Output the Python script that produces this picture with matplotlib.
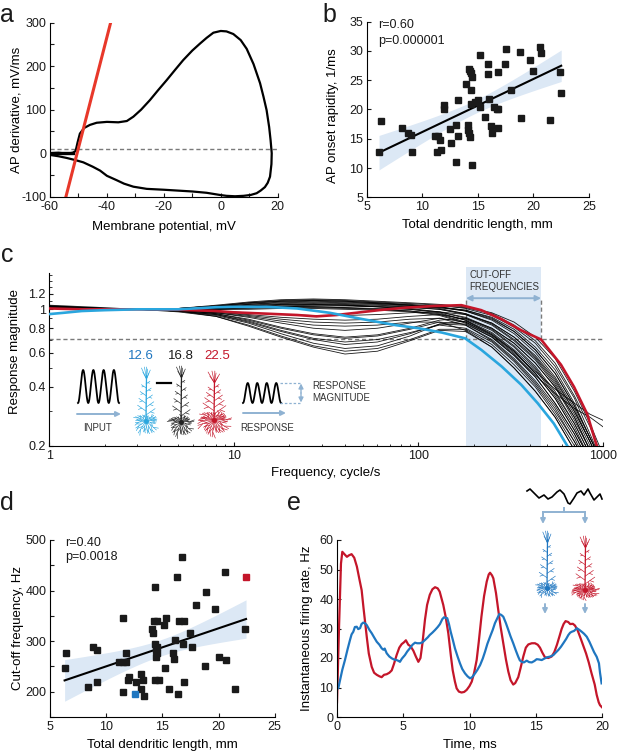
import numpy as np
import matplotlib.pyplot as plt
from matplotlib.ticker import FixedLocator, FixedFormatter, NullFormatter

# ---- panel a: phase plot of the AP ----
ap_v = [-60, -57, -54, -52, -51, -50.3, -49.5, -48, -46, -43.6, -40, -36, -33, -30.7, -28, -24.9, -22,
        -19, -16, -13.2, -10, -7.3, -5, -2.6, 0, 2, 4.4, 7, 9.1, 11.5, 13.8, 15, 16.1, 17, 17.5, 17.9,
        17.8, 17.3, 16.5, 15.5, 14, 12.6, 10.5, 8, 5, 2, -0.3, -5, -10, -15, -20, -26, -30.7, -34,
        -36.6, -40, -42.4, -45, -48.3, -51, -54.1, -57, -60]
ap_dv = [0, 1, -1, 1, 5, 25, 45, 58, 65, 70, 72, 71, 74, 84, 100, 122, 145,
         168, 192, 214, 236, 252, 265, 277, 281, 280, 274, 260, 240, 205, 161, 130, 99, 60, 30, 0,
         -25, -54, -68, -78, -86, -92, -96, -98, -99, -98, -96, -91, -88, -86, -84, -82, -77, -70,
         -62, -52, -40, -31, -21, -16, -11, -7, -4]
onset_v = [-54.4, -38.7]
onset_dv = [-100, 300]

# ---- panel b: AP onset rapidity vs dendritic length ----
len_b = [6.11, 6.29, 8.21, 8.69, 8.99, 9.05, 11.15, 11.39, 11.33, 11.6, 11.66, 11.93, 11.99, 12.5,
         12.59, 13.0, 13.0, 13.2, 13.25, 13.97, 14.15, 14.15, 14.24, 14.24, 14.3, 14.3, 14.4, 14.4,
         14.4, 14.45, 14.5, 14.7, 15.0, 15.2, 15.2, 15.6, 15.9, 15.9, 16.0, 16.2, 16.3, 16.45, 16.7,
         16.8, 16.85, 16.85, 17.44, 17.56, 17.98, 18.79, 18.85, 19.68, 19.96, 20.56, 20.68, 21.49,
         22.4, 22.5]
rapid_b = [12.7, 18.1, 16.9, 16.0, 15.7, 12.7, 15.5, 15.5, 12.8, 14.8, 13.1, 20.0, 20.7, 16.6,
           14.3, 17.3, 11.0, 21.7, 15.5, 24.3, 17.3, 16.5, 15.9, 26.9, 26.5, 15.3, 23.3, 20.9,
           26.2, 25.5, 10.6, 21.3, 21.6, 29.3, 20.4, 18.7, 27.8, 26.0, 21.8, 17.1, 16.0, 20.4, 20.0,
           26.4, 20.0, 16.8, 27.7, 30.3, 23.4, 29.8, 18.5, 28.5, 26.5, 30.6, 29.6, 18.2,
           26.4, 22.8]

# ---- panel c: response magnitude vs frequency ----
freq = [1, 2, 3, 5, 8, 12, 18, 27, 40, 60, 90, 130, 180, 250, 330, 430, 550, 700, 850, 1000]
black_resp = [
    [1.02, 1.00, 1.00, 1.01, 1.05, 1.09, 1.12, 1.13, 1.12, 1.10, 1.08, 1.06, 1.03, 0.96, 0.86, 0.72, 0.56, 0.38, 0.26, 0.18],
    [1.03, 1.00, 1.00, 1.01, 1.04, 1.08, 1.11, 1.12, 1.11, 1.09, 1.07, 1.05, 1.01, 0.93, 0.81, 0.67, 0.51, 0.35, 0.23, 0.16],
    [1.02, 1.00, 1.00, 1.01, 1.04, 1.07, 1.10, 1.11, 1.10, 1.08, 1.06, 1.03, 0.98, 0.88, 0.75, 0.60, 0.45, 0.31, 0.21, 0.15],
    [1.01, 1.00, 1.00, 1.00, 1.03, 1.06, 1.08, 1.09, 1.08, 1.07, 1.05, 1.04, 1.02, 0.95, 0.83, 0.69, 0.53, 0.36, 0.25, 0.17],
    [1.02, 1.00, 1.00, 1.00, 1.02, 1.05, 1.07, 1.08, 1.07, 1.06, 1.04, 1.02, 0.99, 0.91, 0.79, 0.64, 0.49, 0.33, 0.22, 0.16],
    [1.02, 1.00, 1.00, 1.00, 1.02, 1.04, 1.06, 1.07, 1.06, 1.05, 1.03, 1.00, 0.94, 0.83, 0.69, 0.55, 0.41, 0.28, 0.19, 0.14],
    [1.03, 1.00, 1.00, 1.00, 1.02, 1.04, 1.06, 1.06, 1.05, 1.03, 1.01, 0.97, 0.90, 0.79, 0.65, 0.51, 0.38, 0.26, 0.18, 0.13],
    [1.03, 1.00, 1.00, 1.00, 1.01, 1.02, 1.03, 1.04, 1.04, 1.03, 1.02, 1.00, 0.95, 0.85, 0.72, 0.58, 0.44, 0.30, 0.21, 0.15],
    [1.04, 1.01, 1.00, 1.00, 1.01, 1.02, 1.03, 1.03, 1.02, 1.01, 1.00, 0.97, 0.91, 0.80, 0.67, 0.53, 0.40, 0.28, 0.19, 0.14],
    [1.02, 1.00, 1.00, 1.00, 1.00, 1.01, 1.02, 1.02, 1.01, 1.00, 0.98, 0.95, 0.88, 0.76, 0.62, 0.49, 0.36, 0.25, 0.17, 0.12],
    [1.03, 1.00, 1.00, 1.00, 1.00, 1.00, 1.01, 1.01, 1.00, 0.99, 0.97, 0.93, 0.85, 0.72, 0.58, 0.45, 0.33, 0.23, 0.16, 0.12],
    [1.02, 1.00, 1.00, 0.99, 0.98, 0.96, 0.94, 0.93, 0.93, 0.94, 0.96, 0.97, 0.94, 0.85, 0.72, 0.57, 0.43, 0.30, 0.21, 0.15],
    [1.03, 1.00, 1.00, 0.99, 0.97, 0.94, 0.91, 0.89, 0.88, 0.89, 0.92, 0.94, 0.89, 0.78, 0.64, 0.50, 0.37, 0.26, 0.18, 0.13],
    [1.02, 1.00, 1.00, 0.99, 0.97, 0.93, 0.89, 0.86, 0.85, 0.86, 0.89, 0.90, 0.83, 0.69, 0.55, 0.42, 0.31, 0.21, 0.15, 0.11],
    [1.03, 1.01, 1.00, 0.99, 0.96, 0.91, 0.85, 0.80, 0.78, 0.80, 0.85, 0.90, 0.86, 0.74, 0.61, 0.47, 0.35, 0.24, 0.17, 0.12],
    [1.03, 1.01, 1.00, 0.99, 0.95, 0.88, 0.80, 0.74, 0.71, 0.73, 0.79, 0.86, 0.84, 0.72, 0.58, 0.45, 0.33, 0.23, 0.16, 0.12],
    [1.04, 1.01, 1.00, 0.98, 0.94, 0.87, 0.78, 0.71, 0.68, 0.70, 0.76, 0.83, 0.80, 0.68, 0.54, 0.41, 0.30, 0.21, 0.15, 0.11],
    [1.03, 1.01, 1.00, 0.99, 0.95, 0.89, 0.81, 0.75, 0.72, 0.74, 0.80, 0.88, 0.90, 0.80, 0.67, 0.53, 0.40, 0.27, 0.19, 0.14],
    [1.04, 1.01, 1.00, 0.98, 0.93, 0.85, 0.75, 0.67, 0.63, 0.65, 0.73, 0.84, 0.87, 0.75, 0.61, 0.47, 0.35, 0.24, 0.17, 0.12],
    [1.04, 1.01, 1.00, 0.98, 0.92, 0.83, 0.73, 0.65, 0.61, 0.63, 0.70, 0.79, 0.79, 0.66, 0.52, 0.40, 0.29, 0.20, 0.14, 0.10],
    [1.05, 1.02, 1.00, 0.97, 0.92, 0.82, 0.72, 0.64, 0.59, 0.61, 0.69, 0.78, 0.77, 0.64, 0.50, 0.38, 0.28, 0.19, 0.14, 0.10],
    [1.03, 1.01, 1.00, 0.98, 0.94, 0.86, 0.77, 0.70, 0.66, 0.68, 0.75, 0.84, 0.83, 0.70, 0.56, 0.43, 0.32, 0.22, 0.15, 0.11],
    [1.02, 1.00, 1.00, 1.00, 1.01, 1.03, 1.05, 1.06, 1.05, 1.03, 1.00, 0.96, 0.88, 0.74, 0.60, 0.48, 0.39, 0.33, 0.29, 0.27],
    [1.03, 1.00, 1.00, 1.00, 1.00, 1.02, 1.03, 1.03, 1.02, 1.00, 0.98, 0.94, 0.86, 0.73, 0.59, 0.46, 0.37, 0.31, 0.28, 0.25],
    [1.02, 1.00, 1.00, 1.00, 1.03, 1.06, 1.09, 1.10, 1.09, 1.07, 1.05, 1.03, 0.99, 0.90, 0.77, 0.62, 0.47, 0.32, 0.22, 0.16],
    [1.03, 1.00, 1.00, 1.01, 1.04, 1.08, 1.10, 1.11, 1.10, 1.08, 1.05, 1.01, 0.95, 0.84, 0.70, 0.56, 0.42, 0.29, 0.20, 0.14],
    [1.02, 1.00, 1.00, 0.99, 0.96, 0.92, 0.87, 0.83, 0.82, 0.83, 0.86, 0.86, 0.78, 0.64, 0.50, 0.38, 0.28, 0.19, 0.14, 0.10],
    [1.02, 1.00, 1.00, 1.00, 1.01, 1.03, 1.04, 1.05, 1.05, 1.04, 1.03, 1.02, 0.98, 0.89, 0.77, 0.62, 0.47, 0.32, 0.22, 0.16],
]
red_f = [1, 1.5, 2, 3, 5, 8, 10, 15, 22, 28, 36, 46, 61, 85, 123, 171, 219, 282, 361, 462, 592, 697, 822, 910, 1000]
red_resp = [1.01, 1.0, 1.0, 1.0, 0.995, 0.98, 0.965, 0.95, 0.935, 0.92, 0.935, 0.96, 0.99, 1.02, 1.04, 1.05,
            0.99, 0.89, 0.78, 0.70, 0.52, 0.40, 0.29, 0.21, 0.16]
blue_f = [1, 1.2, 1.5, 2, 3, 5, 8, 10, 15, 22, 33, 50, 75, 100, 134, 179, 219, 282, 361, 443, 541, 640, 750]
blue_resp = [0.945, 0.96, 0.98, 0.99, 1.0, 1.0, 1.025, 1.03, 1.03, 1.01, 0.96, 0.89, 0.83, 0.80, 0.76, 0.71,
             0.62, 0.51, 0.41, 0.33, 0.26, 0.20, 0.16]
cutoff_lo, cutoff_hi = 181, 462

# ---- panel d: cut-off frequency vs dendritic length ----
len_d = [16.72, 16.33, 20.6, 14.35, 18.86, 18.0, 19.69, 11.47, 15.3, 14.26, 14.5, 16.5, 16.9, 15.15,
         14.05, 14.2, 17.46, 22.4, 16.1, 14.35, 14.5, 17.6, 16.84, 8.86, 9.15, 6.45, 11.77, 14.44,
         14.5, 15.98, 14.44, 16.04, 20.0, 20.7, 11.17, 11.47, 11.77, 15.27, 6.3, 18.8, 8.35, 9.18,
         12.06, 11.97, 13.07, 13.3, 12.66, 14.35, 14.73, 16.9, 11.47, 13.13, 15.62, 16.36, 21.5, 13.37]
cutoff_d = [467, 426, 436, 407, 398, 371, 363, 346, 346, 339, 339, 339, 339, 331,
            324, 317, 317, 324, 302, 294, 288, 289, 294, 289, 282, 276, 276, 282,
            276, 276, 269, 264, 269, 263, 258, 258, 258, 246, 246, 251, 210, 220,
            230, 223, 235, 224, 220, 224, 224, 220, 200, 205, 205, 195, 205, 191]
big_len, big_cut = 22.45, 426
small_len, small_cut = 12.6, 195

# ---- panel e: instantaneous firing rate ----
red_t = [0.0, 0.15, 0.3, 0.4, 0.6, 0.75, 0.9, 1.1, 1.3, 1.5, 1.7, 1.86, 2.0, 2.1, 2.25, 2.4, 2.62, 2.8, 3.0,
         3.2, 3.37, 3.55, 3.75, 3.95, 4.13, 4.3, 4.5, 4.7, 4.88, 5.05, 5.2, 5.38, 5.55, 5.76, 5.95, 6.14,
         6.3, 6.45, 6.64, 6.8, 7.0, 7.2, 7.4, 7.6, 7.75, 8.02, 8.2, 8.4, 8.6, 8.73, 8.9, 9.03, 9.2, 9.4,
         9.6, 9.79, 10.0, 10.17, 10.35, 10.54, 10.7, 10.9, 11.1, 11.3, 11.45, 11.55, 11.7, 11.8, 12.0,
         12.17, 12.35, 12.55, 12.75, 12.93, 13.1, 13.3, 13.45, 13.68, 13.85, 14.06, 14.25, 14.44, 14.7,
         14.94, 15.15, 15.32, 15.5, 15.7, 15.95, 16.2, 16.4, 16.6, 16.8, 16.95, 17.1, 17.25, 17.45, 17.6,
         17.8, 17.96, 18.15, 18.4, 18.6, 18.8, 19.0, 19.2, 19.45, 19.6, 19.75, 19.85, 20.0]
red_rate = [5, 30, 52, 56, 55, 54.3, 54.8, 55.2, 54, 51, 46.5, 43, 37, 33, 27, 21.5, 17, 15, 14.3,
            13.8, 13.5, 14.3, 14.5, 15, 15.8, 18, 21, 23.5, 24.7, 25.3, 26, 24.5, 24, 22.5, 20.5, 18.7,
            20, 25, 33, 38, 41.4, 43.3, 44, 43.6, 42.5, 38, 34, 28.4, 20.5, 15.9, 12, 9.7, 8.6, 8.3,
            8.5, 9.2, 10.5, 12, 15, 19.3, 25.5, 34, 41, 45.9, 48.3, 48.9, 48, 47, 42,
            36.3, 30.5, 25, 19.5, 15.4, 12.5, 11, 11.5, 13.5, 16.5, 20.5, 23.5, 24.6, 25,
            25, 24.5, 23.5, 21.8, 20.2, 20, 20.5, 22, 24.5, 27.5, 29.8, 31.5, 32.5, 32.2, 31.5,
            31.6, 31, 29.5, 26.5, 24, 21.5, 18.5, 15, 11, 7.5, 5, 4, 3.3]
blue_t = [0.0, 0.1, 0.23, 0.4, 0.6, 0.8, 0.98, 1.1, 1.23, 1.35, 1.49, 1.6, 1.74, 1.85, 1.98, 2.1, 2.24,
          2.45, 2.62, 2.8, 3.0, 3.2, 3.37, 3.5, 3.6, 3.75, 3.95, 4.13, 4.3, 4.5, 4.65, 4.75, 4.9, 5.13,
          5.3, 5.5, 5.7, 5.89, 6.05, 6.26, 6.45, 6.64, 6.85, 7.0, 7.2, 7.4, 7.6, 7.77, 7.95, 8.08, 8.2,
          8.32, 8.45, 8.58, 8.75, 8.9, 9.1, 9.28, 9.45, 9.66, 9.85, 10.04, 10.2, 10.42, 10.6, 10.8,
          11.0, 11.17, 11.35, 11.55, 11.75, 11.92, 12.1, 12.25, 12.4, 12.55, 12.75, 12.93, 13.1, 13.3,
          13.5, 13.68, 13.8, 13.94, 14.1, 14.32, 14.5, 14.7, 14.9, 15.07, 15.25, 15.45, 15.65, 15.83,
          16.1, 16.33, 16.5, 16.7, 16.9, 17.08, 17.3, 17.46, 17.6, 17.72, 17.9, 18.1, 18.3, 18.47,
          18.65, 18.85, 19.05, 19.22, 19.4, 19.6, 19.77, 19.85, 19.97]
blue_rate = [9.5, 9.8, 12.5, 16, 19.3, 23, 26.1, 28, 28.9, 30.5, 30.6, 29.8, 30.1, 31.5, 32, 31.8, 31.2,
             29.5, 28.4, 27, 25.5, 24.5, 23.3, 22.8, 23.2, 21.6, 20.5, 19.9, 19.5, 19.3, 19, 18.7, 19.8, 21,
             22.2, 23.3, 24.5, 25.2, 25, 25, 25.3, 26.1, 27, 27.8, 28.6, 29.5, 30.5, 31.5, 33.2, 33.8, 33.6,
             33.5, 31.5, 28.9, 26, 23.3, 20.5, 18.2, 16.3, 14.8, 13.8, 13.1, 13.5, 14.8, 16, 17.6,
             19.8, 22.1, 24.8, 27.2, 29.5, 31.8, 33.5, 34.9, 34.6, 34, 31.8, 29.5, 27.3, 25,
             22.5, 20.4, 19.2, 18.7, 18.5, 19.1, 18.6, 18.5, 19, 19.6, 19.5, 19.3, 19.8, 20.2,
             20.5, 21, 21.8, 22.7, 23.8, 25, 26.5, 27.8, 28.6, 28.9, 29.2, 30.1, 29.5, 28.9,
             28.2, 27.2, 25.5, 23.8, 22, 20.4, 18.2, 15, 11.4]
# stimulus trace drawn above panel e (pixel offsets)
stim_x = [0, 3, 7, 12, 17, 21, 25, 30, 33, 37, 41, 43, 47, 50, 54, 57, 61, 63, 67, 69, 73, 75]
stim_y = [0, -2, 2, 7, 4, 8, 6, 1, -1, 3, 12, 13, 7, 2, 0, 4, -2, 2, 9, 7, 3, 8]

RED = '#c4162a'
CBLUE = '#2aa6de'
EBLUE = '#1f76c0'
SHADE = '#dce8f5'
ARROW = '#8fb2d2'
GRAY = '#7a7a7a'

plt.rcParams['font.family'] = ['Liberation Sans', 'DejaVu Sans']
plt.rcParams['font.size'] = 9
plt.rcParams['axes.linewidth'] = 0.8
plt.rcParams['xtick.direction'] = 'in'
plt.rcParams['ytick.direction'] = 'in'
plt.rcParams['xtick.major.size'] = 3
plt.rcParams['ytick.major.size'] = 3
plt.rcParams['xtick.minor.size'] = 1.8
plt.rcParams['ytick.minor.size'] = 1.8
plt.rcParams['xtick.major.pad'] = 3
plt.rcParams['ytick.major.pad'] = 2.5
plt.rcParams['text.color'] = '#1a1a1a'
plt.rcParams['xtick.color'] = '#1a1a1a'
plt.rcParams['ytick.color'] = '#1a1a1a'

W, H = 617, 753
fig = plt.figure(figsize=(W / 100, H / 100), dpi=100)


def axes_px(l, t, r, b):
    ax = fig.add_axes([l / W, 1 - b / H, (r - l) / W, (b - t) / H])
    ax.spines[['top', 'right']].set_visible(False)
    ax.patch.set_alpha(0)
    return ax


def labels(ax, xl, yl, xpos=-0.158, ypos=(-0.15, 0.5)):
    ax.set_xlabel(xl, fontsize=9.5)
    ax.set_ylabel(yl, fontsize=9.5)
    ax.xaxis.label.set_va('center')
    ax.yaxis.label.set_va('center')
    ax.xaxis.set_label_coords(0.5, xpos)
    ax.yaxis.set_label_coords(*ypos)


def fit_band(x, y):
    x = np.asarray(x, float)
    y = np.asarray(y, float)
    slope, icpt = np.polyfit(x, y, 1)
    xs = np.linspace(x.min(), x.max(), 100)
    resid = y - (icpt + slope * x)
    s = np.sqrt(np.sum(resid ** 2) / (len(x) - 2))
    se = s * np.sqrt(1 / len(x) + (xs - x.mean()) ** 2 / np.sum((x - x.mean()) ** 2))
    return xs, icpt + slope * xs, 1.96 * se


# ---------- a ----------
ax_a = axes_px(50, 22.7, 277.7, 196.7)
ax_a.axhline(10, color=GRAY, lw=1, ls=(0, (3, 2)))
ax_a.plot(ap_v, ap_dv, color='k', lw=1.6)
ax_a.plot([-60, -52], [0, 0], color='k', lw=2.4)
ax_a.plot(onset_v, onset_dv, color='#e8382a', lw=2.2)
ax_a.set_xlim(-60, 20)
ax_a.set_ylim(-100, 300)
ax_a.xaxis.set_major_locator(FixedLocator(range(-60, 21, 10)))
ax_a.xaxis.set_major_formatter(FixedFormatter(['-60', '', '-40', '', '-20', '', '0', '', '20']))
ax_a.yaxis.set_major_locator(FixedLocator(range(-100, 301, 50)))
ax_a.yaxis.set_major_formatter(FixedFormatter(['-100', '', '0', '', '100', '', '200', '', '300']))
labels(ax_a, 'Membrane potential, mV', 'AP derivative, mV/ms', -0.174, (-0.149, 0.5))

# ---------- b ----------
ax_b = axes_px(366.7, 21.7, 589, 197.3)
xs, yh, ci = fit_band(len_b, rapid_b)
ax_b.fill_between(xs, yh - ci, yh + ci, color=SHADE, lw=0, zorder=1)
ax_b.plot(xs, yh, color='k', lw=1.5, zorder=2)
ax_b.plot(len_b, rapid_b, 's', color='#1a1a1a', ms=4.6, zorder=3)
ax_b.set_xlim(5, 25)
ax_b.set_ylim(5, 35)
ax_b.set_xticks(range(5, 26, 5))
ax_b.set_yticks(range(5, 36, 5))
labels(ax_b, 'Total dendritic length, mm', 'AP onset rapidity, 1/ms', -0.158, (-0.152, 0.463))

# ---------- c ----------
ax_c = axes_px(49.3, 273, 603, 445.7)
ax_c.set_xscale('log')
ax_c.set_yscale('log')
ax_c.axvspan(cutoff_lo, cutoff_hi, ymin=0, ymax=1.036, color=SHADE, lw=0, zorder=0, clip_on=False)
ax_c.axhline(0.707, color=GRAY, lw=1, ls=(0, (3, 2)), zorder=1)
for row in black_resp:
    ax_c.plot(freq, row, color='k', lw=0.6, alpha=0.9, zorder=2)
ax_c.plot(red_f, red_resp, color=RED, lw=1.9, zorder=3)
ax_c.plot(blue_f, blue_resp, color=CBLUE, lw=1.9, zorder=4)
arrow_y = 1.14
for fx in (cutoff_lo, cutoff_hi):
    ax_c.plot([fx, fx], [0.707, arrow_y], color=GRAY, lw=1, ls=(0, (3, 2)), zorder=1)
ax_c.annotate('', xy=(cutoff_hi, arrow_y), xytext=(cutoff_lo, arrow_y),
              arrowprops=dict(arrowstyle='<|-|>', color=ARROW, lw=1.4, mutation_scale=8,
                              shrinkA=0, shrinkB=0), zorder=5)
ax_c.set_xlim(1, 1000)
ax_c.set_ylim(0.2, 1.535)
ax_c.xaxis.set_major_locator(FixedLocator([1, 10, 100, 1000]))
ax_c.xaxis.set_major_formatter(FixedFormatter(['1', '10', '100', '1000']))
ax_c.xaxis.set_minor_formatter(NullFormatter())
ax_c.yaxis.set_major_locator(FixedLocator([0.2, 0.4, 0.6, 0.8, 1, 1.2]))
ax_c.yaxis.set_major_formatter(FixedFormatter(['0.2', '0.4', '0.6', '0.8', '1', '1.2']))
ax_c.yaxis.set_minor_locator(FixedLocator([0.3, 0.5, 0.7, 0.9, 1.1, 1.3, 1.4, 1.5]))
ax_c.yaxis.set_minor_formatter(NullFormatter())
labels(ax_c, 'Frequency, cycle/s', 'Response magnitude', -0.158, (-0.062, 0.548))

# ---------- d ----------
ax_d = axes_px(50, 540, 274.7, 717)
all_len = len_d + [big_len, small_len]
all_cut = cutoff_d + [big_cut, small_cut]
xs, yh, ci = fit_band(all_len, all_cut)
ax_d.fill_between(xs, yh - ci, yh + ci, color=SHADE, lw=0, zorder=1)
ax_d.plot(xs, yh, color='k', lw=1.5, zorder=2)
ax_d.plot(len_d, cutoff_d, 's', color='#1a1a1a', ms=4.3, zorder=3)
ax_d.plot([big_len], [big_cut], 's', color=RED, ms=5, zorder=3)
ax_d.plot([small_len], [small_cut], 's', color=EBLUE, ms=5, zorder=3)
ax_d.set_xlim(5, 25)
ax_d.set_ylim(150, 500)
ax_d.set_xticks(range(5, 26, 5))
ax_d.yaxis.set_major_locator(FixedLocator(range(150, 501, 50)))
ax_d.yaxis.set_major_formatter(FixedFormatter(['', '200', '', '300', '', '400', '', '500']))
labels(ax_d, 'Total dendritic length, mm', 'Cut-off frequency, Hz', -0.158, (-0.142, 0.5))

# ---------- e ----------
ax_e = axes_px(337, 540, 602, 717)
ax_e.plot(red_t, red_rate, color=RED, lw=1.6)
ax_e.plot(blue_t, blue_rate, color=EBLUE, lw=1.6)
ax_e.set_xlim(0, 20)
ax_e.set_ylim(0, 60)
ax_e.set_xticks(range(0, 21, 5))
ax_e.set_yticks(range(0, 61, 10))
labels(ax_e, 'Time, ms', 'Instantaneous firing rate, Hz', -0.158, (-0.113, 0.5))

# ---------- overlay for annotations in pixel units ----------
ov = fig.add_axes([0, 0, 1, 1], zorder=10)
ov.set_xlim(0, W)
ov.set_ylim(H, 0)
ov.axis('off')
ov.patch.set_alpha(0)

for lab, x, y in [('a', 0, 21.7), ('b', 322, 21.7), ('c', 1, 262), ('d', 0, 510), ('e', 287, 510)]:
    ov.text(x, y, lab, fontsize=18, ha='left', va='baseline')

ov.text(378, 25, 'r=0.60', fontsize=9, va='center')
ov.text(378, 41, 'p=0.000001', fontsize=9, va='center')
ov.text(65, 543, 'r=0.40', fontsize=9, va='center')
ov.text(65, 557, 'p=0.0018', fontsize=9, va='center')
ov.text(469, 275, 'CUT-OFF', fontsize=7, va='center', color='#333333')
ov.text(469, 287, 'FREQUENCIES', fontsize=7, va='center', color='#333333')


def arrow(x0, y0, x1, y1, style='-|>', lw=1.4):
    ov.annotate('', xy=(x1, y1), xytext=(x0, y0),
                arrowprops=dict(arrowstyle=style, color=ARROW, lw=lw, mutation_scale=7,
                                shrinkA=0, shrinkB=0))


def neuron(cx, top, soma, bot, color, spread, n_basal):
    kw = dict(color=color, lw=0.45, solid_capstyle='round')
    ov.plot([cx, cx + 0.5], [soma, top + 8], color=color, lw=0.9)
    for dx, dy in [(-0.35, 0), (-0.12, -1), (0.12, 1), (0.33, 2), (-0.25, 4), (0.22, 5), (0.05, -1)]:
        ov.plot([cx + 0.5, cx + dx * spread], [top + 11, top + dy], **kw)
    for i, yy in enumerate(np.linspace(top + 16, soma - 6, 9)):
        sgn = -1 if i % 2 else 1
        L = spread * (0.3 + 0.05 * i)
        ov.plot([cx, cx + sgn * L], [yy, yy - L * 0.7], **kw)
        ov.plot([cx + sgn * L * 0.5, cx + sgn * L * 0.9], [yy - L * 0.35, yy - L * 0.2], **kw)
    angs = np.linspace(0, 2 * np.pi, n_basal, endpoint=False) + 0.25
    for j, a in enumerate(angs):
        L = spread * (0.75 + 0.25 * ((j * 3) % 4) / 3)
        down = (bot - soma) / spread if np.sin(a) > 0 else 0.55
        ex, ey = cx + L * np.cos(a), soma + L * np.sin(a) * down
        ov.plot([cx, ex], [soma, ey], **kw)
        for frac, da in ((0.45, 0.6), (0.7, -0.5)):
            mx, my = cx + frac * (ex - cx), soma + frac * (ey - soma)
            ov.plot([mx, mx + 0.4 * L * np.cos(a + da)],
                    [my, my + 0.4 * L * np.sin(a + da) * down], **kw)
    ov.plot([cx], [soma], 'o', color=color, ms=2.5)


# inset of panel c
t = np.linspace(0, 1, 200)
ov.plot(78 + 41 * t, 386.5 + 16.5 * np.cos(2 * np.pi * 4 * t), color='k', lw=1.3)
ov.plot(243 + 38 * t, 393 + 10 * np.cos(2 * np.pi * 4 * t), color='k', lw=1.3)
arrow(77, 414, 121, 414)
arrow(243, 413, 286, 413)
ov.text(98, 428, 'INPUT', fontsize=7, ha='center', va='center', color='#333333')
ov.text(267, 428, 'RESPONSE', fontsize=7, ha='center', va='center', color='#333333')
for yy in (383, 403):
    ov.plot([280, 301], [yy, yy], color=ARROW, lw=0.9, ls=(0, (2, 1.5)))
arrow(301, 393, 301, 383.5, lw=1)
arrow(301, 393, 301, 402.5, lw=1)
ov.text(312, 386, 'RESPONSE', fontsize=7, va='center', color='#333333')
ov.text(312, 398, 'MAGNITUDE', fontsize=7, va='center', color='#333333')
ov.text(141, 356, '12.6', fontsize=9.5, ha='center', va='center', color=EBLUE)
ov.text(181, 356, '16.8', fontsize=9.5, ha='center', va='center')
ov.text(217, 356, '22.5', fontsize=9.5, ha='center', va='center', color=RED)
ov.plot([157, 171], [383, 383], color='k', lw=1.6)
neuron(146, 368, 421, 436, CBLUE, 13, 16)
neuron(181, 367, 422, 438, '#222222', 13, 18)
neuron(214, 372, 420, 437, RED, 17, 22)

# inset of panel e
ov.plot([527 + v for v in stim_x], [491 + v for v in stim_y], color='k', lw=1.2)
ov.plot([564, 564], [508, 512], color=ARROW, lw=1.4)
ov.plot([543, 585], [512, 512], color=ARROW, lw=1.4)
arrow(543, 512, 543, 524)
arrow(585, 512, 585, 524)
arrow(545, 604, 545, 614)
arrow(585, 604, 585, 614)
neuron(547, 532, 588, 598, EBLUE, 12, 16)
neuron(585, 537, 590, 600, RED, 14, 22)

fig.savefig('out.png', dpi=100)
